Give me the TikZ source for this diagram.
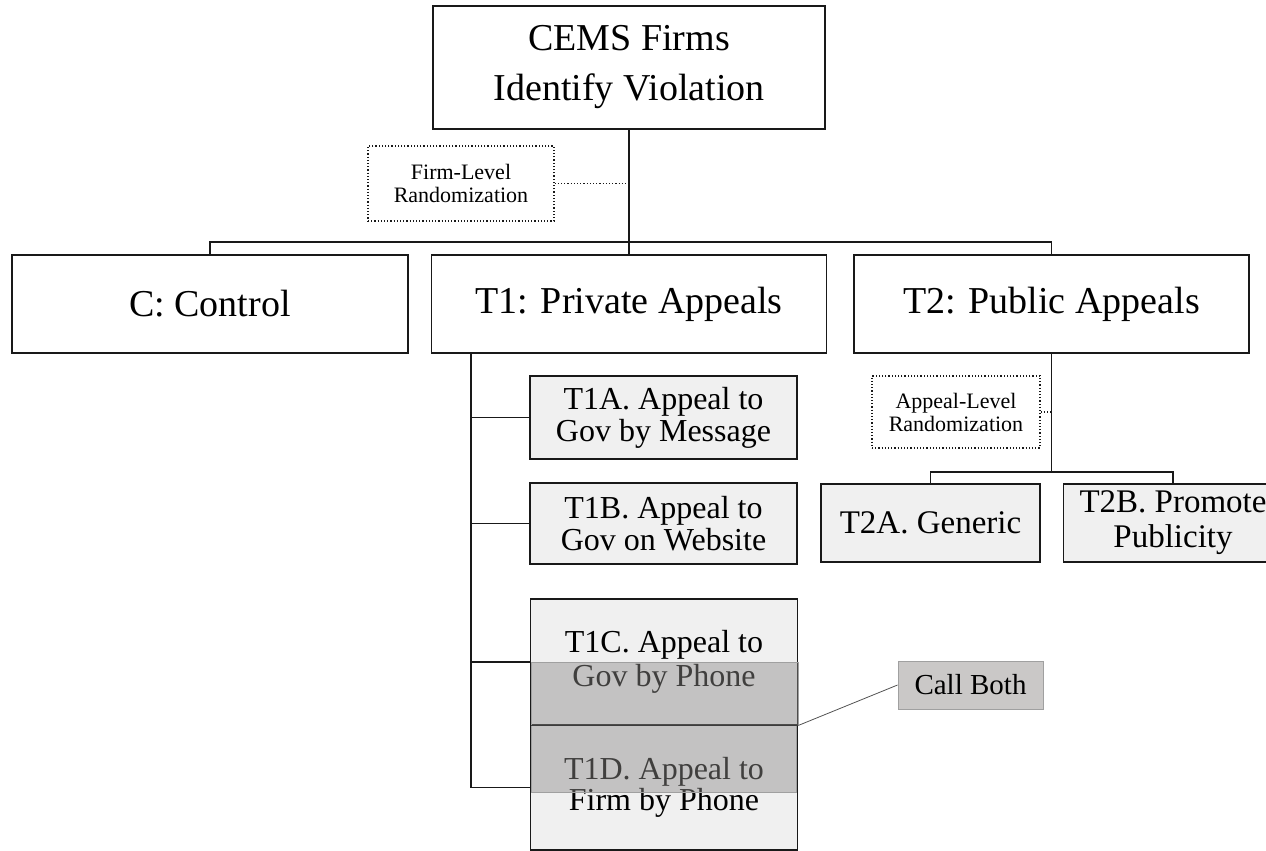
\documentclass[tikz,border=0pt]{standalone}
\usepackage{fontspec}
\setmainfont{Liberation Serif}
\definecolor{subfill}{RGB}{240,240,240}
\definecolor{ovfill}{RGB}{142,140,138}
\definecolor{callfill}{RGB}{202,200,199}
\definecolor{ovline}{RGB}{160,160,160}
\definecolor{ink}{RGB}{25,25,25}
\tikzset{
  bigbox/.style={draw=ink, line width=1.8pt, inner sep=0pt, align=center,
    font=\fontsize{38}{50}\selectfont},
  subbox/.style={draw=ink, line width=1.3pt, fill=subfill, inner sep=0pt, align=center,
    font=\fontsize{32}{32}\selectfont},
  randbox/.style={draw=ink, dotted, line width=1.2pt, inner sep=0pt, align=center,
    font=\fontsize{22}{23}\selectfont},
  overlay/.style={draw=ovline, line width=0.8pt, fill=ovfill, fill opacity=0.45, inner sep=0pt},
  conn/.style={draw=ink, line width=1.3pt},
  dotconn/.style={draw=ink, dotted, line width=1.2pt}
}
\begin{document}
\begin{tikzpicture}[x=1pt,y=-1pt]
\useasboundingbox (0,0) rectangle (1266,851);
\clip (0,0) rectangle (1266,851);

% top level
\node[bigbox, minimum width=392pt, minimum height=123pt] (top) at (629,67.5) {CEMS Firms\\Identify Violation};
\node[randbox, minimum width=186pt, minimum height=75pt] (firm) at (461,183.5) {Firm-Level\\Randomization};

\node[bigbox, minimum width=396pt, minimum height=98pt] (C) at (210,304) {C: Control};
\node[bigbox, minimum width=395pt, minimum height=98pt] (T1) at (629,304) {T1: Private Appeals};
\node[bigbox, minimum width=395pt, minimum height=98pt] (T2) at (1051.5,304) {T2: Public Appeals};

\draw[conn] (top.south) -- (T1.north);
\draw[conn] (C.north) -- ++(0,-12) -| (T2.north);
\draw[dotconn] (firm.east) -- (firm.east -| top.south);

% T1 branch
\node[subbox, minimum width=267pt, minimum height=83pt] (T1A) at (663.5,417.5) {T1A. Appeal to\\Gov by Message};
\node[subbox, minimum width=267pt, minimum height=81pt] (T1B) at (663.5,523.5) {T1B. Appeal to\\Gov on Website};
\node[subbox, minimum width=267pt, minimum height=126pt, font=\fontsize{32}{34}\selectfont] (T1C) at (664,662) {T1C. Appeal to\\Gov by Phone};
\node[subbox, minimum width=267pt, minimum height=125pt, font=\fontsize{32}{31}\selectfont] (T1D) at (664,787.5) {T1D. Appeal to\\Firm by Phone};

\node[overlay, minimum width=267pt, minimum height=63pt] (ovC) at (664.5,693.5) {};
\node[overlay, minimum width=265pt, minimum height=67pt] (ovD) at (663.5,758.5) {};
\draw[draw=ink!85, line width=1.2pt] (ovC.south west) -- (ovC.south east);

\coordinate (t1s) at (471,353);
\draw[conn] (t1s) |- (T1D.west);
\draw[conn] (T1A.west) -- (T1A.west -| t1s);
\draw[conn] (T1B.west) -- (T1B.west -| t1s);
\draw[conn] (T1C.west) -- (T1C.west -| t1s);

\node[draw=ovline, line width=0.9pt, fill=callfill, inner sep=0pt, minimum width=145pt, minimum height=48pt,
  font=\fontsize{29}{29}\selectfont] (call) at (970.5,685) {Call Both};
\draw[draw=ink!75, line width=0.8pt] (ovC.south east) -- (call.west);

% T2 branch
\node[randbox, minimum width=168pt, minimum height=72pt] (appeal) at (956,412) {Appeal-Level\\Randomization};
\node[subbox, minimum width=219pt, minimum height=78pt, font=\fontsize{33}{35}\selectfont] (T2A) at (930.5,523) {T2A. Generic};
\node[subbox, minimum width=219pt, minimum height=78pt, font=\fontsize{33}{35}\selectfont] (T2B) at (1173,523) {T2B. Promote\\Publicity};

\coordinate (t2bar) at (1051.5,472);
\draw[conn] (T2.south) -- (t2bar);
\draw[conn] (T2A.north) |- (t2bar) -| (T2B.north);
\draw[dotconn] (appeal.east) -- (appeal.east -| T2.south);
\end{tikzpicture}
\end{document}
